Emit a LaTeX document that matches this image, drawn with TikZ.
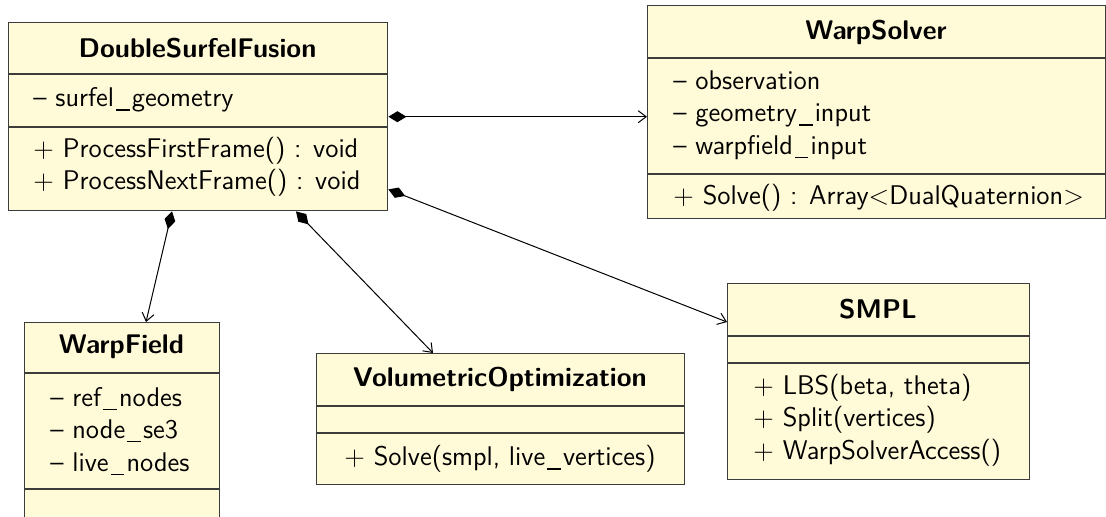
\documentclass[tikz,border=0pt]{standalone}
\usetikzlibrary{arrows.meta}
\definecolor{boxfill}{RGB}{255,250,215}
\definecolor{boxline}{RGB}{60,60,60}
\newcommand\umlfont{\sffamily\fontsize{13.5}{16.2}\selectfont}
\newcommand\usc{\kern0.08em\rule[-0.14em]{0.5em}{0.045em}\kern0.08em}
\tikzset{
  umlbox/.style={draw=boxline, fill=boxfill, line width=0.7pt, inner sep=0pt, rectangle, anchor=north west},
  sepline/.style={draw=boxline, line width=0.7pt},
  txt/.style={inner sep=0pt, anchor=west, align=left, font=\umlfont},
  ttl/.style={inner sep=0pt, font=\umlfont\bfseries},
  comp/.style={line width=0.5pt, {Diamond[length=9pt,width=5.5pt]}-{Straight Barb[length=4pt,width=6pt]}}
}
\begin{document}
\begin{tikzpicture}[x=0.5pt,y=-0.5pt]
\useasboundingbox (0,0) rectangle (1106,516);
\clip (0,0) rectangle (1106,516);
% DoubleSurfelFusion
\node[umlbox, minimum width=189.5pt, minimum height=94pt] (dsf) at (8,22) {};
\draw[sepline] (8,74) -- (387,74);
\draw[sepline] (8,127) -- (387,127);
\node[ttl] (dsft) at (197.5,48) {DoubleSurfelFusion};
\node[txt] (dsfa) at (33,100) {-- surfel\usc geometry};
\node[txt] (dsfm) at (33,167) {+ ProcessFirstFrame() : void\\+ ProcessNextFrame() : void};
% WarpSolver
\node[umlbox, minimum width=229pt, minimum height=106.5pt] (ws) at (647,5) {};
\draw[sepline] (647,58) -- (1105,58);
\draw[sepline] (647,174) -- (1105,174);
\node[ttl] (wst) at (876,32) {WarpSolver};
\node[txt] (wsa) at (673,115) {-- observation\\-- geometry\usc input\\-- warpfield\usc input};
\node[txt] (wsm) at (673,198) {+ Solve() : Array<DualQuaternion>};
% WarpField
\node[umlbox, minimum width=97.5pt, minimum height=109pt] (wf) at (24,322) {};
\draw[sepline] (24,373) -- (219,373);
\draw[sepline] (24,489) -- (219,489);
\node[ttl] (wft) at (121.5,347) {WarpField};
\node[txt] (wfa) at (50,431) {-- ref\usc nodes\\-- node\usc se3\\-- live\usc nodes};
% VolumetricOptimization
\node[umlbox, minimum width=184pt, minimum height=65.5pt] (vo) at (316,353) {};
\draw[sepline] (316,406) -- (684,406);
\draw[sepline] (316,433) -- (684,433);
\node[ttl] (vot) at (500,379) {VolumetricOptimization};
\node[txt, anchor=center] (vom) at (500,459) {+ Solve(smpl, live\usc vertices)};
% SMPL
\node[umlbox, minimum width=151pt, minimum height=98pt] (smpl) at (727,283) {};
\draw[sepline] (727,336) -- (1029,336);
\draw[sepline] (727,363) -- (1029,363);
\node[ttl] (smplt) at (878,309) {SMPL};
\node[txt] (smplm) at (753,420) {+ LBS(beta, theta)\\+ Split(vertices)\\+ WarpSolverAccess()};
% connectors
\draw[comp] (dsf.east) -- (dsf.east -| ws.west);
\draw[comp] ([xshift=82pt]dsf.south west) -- ([xshift=61pt]wf.north west);
\draw[comp] ([xshift=144pt]dsf.south west) -- ([xshift=58.5pt]vo.north west);
\draw[comp] ([yshift=11pt]dsf.south east) -- ([yshift=-19.5pt]smpl.north west);
\end{tikzpicture}
\end{document}
